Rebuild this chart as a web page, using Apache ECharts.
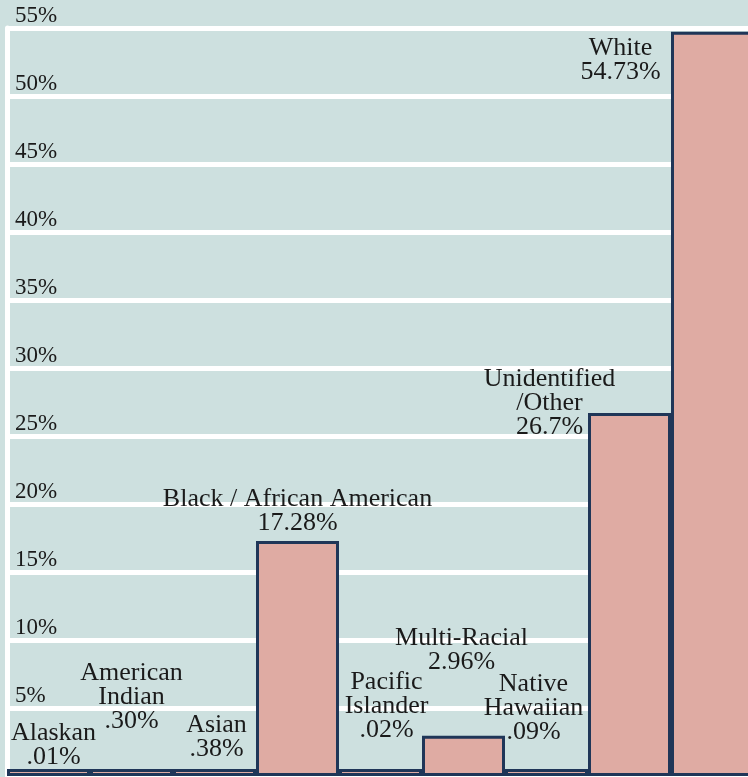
<!DOCTYPE html>
<html>
<head>
<meta charset="utf-8">
<script src="https://cdn.jsdelivr.net/npm/echarts@6/dist/echarts.min.js"></script>
<style>
html,body{margin:0;padding:0;background:#cde0df;overflow:hidden;}
#chart{width:754px;height:777px;}
</style>
</head>
<body>
<div id="chart"></div>
<script>
// ---- data ----
var categories = ['Alaskan', 'American\nIndian', 'Asian', 'Black / African American', 'Pacific\nIslander', 'Multi-Racial', 'Native\nHawaiian', 'Unidentified\n/Other', 'White'];
var values = [0.01, 0.30, 0.38, 17.28, 0.02, 2.96, 0.09, 26.7, 54.73];
var valueTexts = ['.01%', '.30%', '.38%', '17.28%', '.02%', '2.96%', '.09%', '26.7%', '54.73%'];
var yMin = 0, yMax = 55, yStep = 5;

// ---- label placement (layout only) ----
var labelOffsets = [[5, 0], [0, -36], [2, -8], [0, -6], [6, -27], [-2, -62], [-13, -25], [-80, 26], [-92, 52]];

var chart = echarts.init(document.getElementById('chart'));
var seriesData = values.map(function (v, i) {
  return {
    value: v,
    label: { offset: labelOffsets[i] }
  };
});
chart.setOption({
  backgroundColor: '#cde0df',
  animation: false,
  grid: { left: 7, right: 0, top: 28, bottom: 1, containLabel: false },
  xAxis: {
    type: 'category',
    data: categories,
    axisLine: { show: false },
    axisTick: { show: false },
    axisLabel: { show: false },
    splitLine: { show: false }
  },
  yAxis: {
    type: 'value',
    min: yMin, max: yMax, interval: yStep,
    axisLine: { show: true, lineStyle: { color: '#ffffff', width: 5 } },
    axisTick: { show: false },
    splitLine: { show: true, lineStyle: { color: '#ffffff', width: 5 } },
    axisLabel: {
      inside: true,
      margin: 8,
      verticalAlign: 'bottom',
      padding: [0, 0, 1, 0],
      fontFamily: 'Liberation Serif',
      fontSize: 23,
      color: '#1a1a1a',
      formatter: function (v) { return v === 0 ? '' : v + '%'; }
    }
  },
  series: [{
    type: 'bar',
    data: seriesData,
    barCategoryGap: '0%',
    barMinHeight: 7,
    itemStyle: { color: '#dfaba3', borderColor: '#1f3658', borderWidth: 3 },
    label: {
      show: true,
      position: 'top',
      distance: 0,
      fontFamily: 'Liberation Serif',
      fontSize: 26,
      lineHeight: 24,
      color: '#1a1a1a',
      align: 'center',
      formatter: function (p) { return categories[p.dataIndex] + '\n' + valueTexts[p.dataIndex]; }
    }
  }]
});
</script>
</body>
</html>
